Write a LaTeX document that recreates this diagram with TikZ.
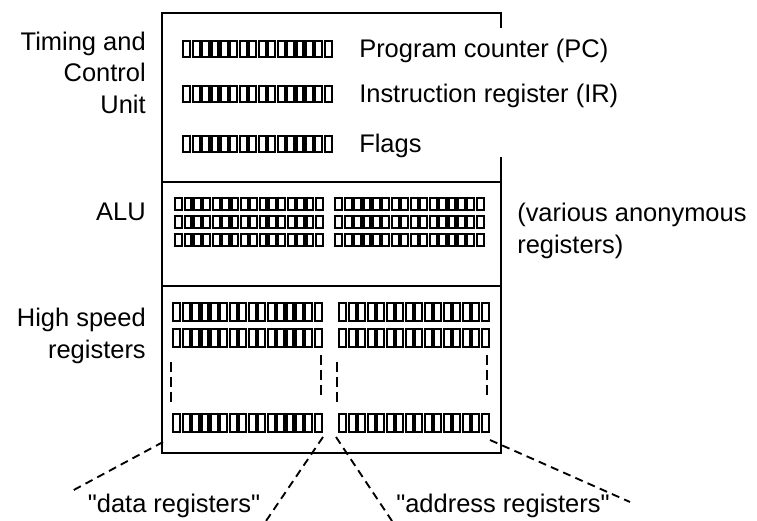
\documentclass[tikz,border=0pt]{standalone}
\usepackage{fontspec}
\setmainfont{Liberation Sans}[Ligatures=TeXOff]
\tikzset{x=0.75pt, y=-0.75pt,
 boxline/.style={line width=1.8pt},
 txt/.style={font=\fontsize{19.1pt}{23.6pt}\selectfont, inner sep=0pt},
 zoomline/.style={line width=1.4pt, dash pattern=on 6pt off 4pt},
 gapline/.style={line width=1.4pt, dash pattern=on 7.5pt off 3.75pt},
 bitcell/.style={line width=1.6pt},
 }
% a register drawn as 16 bit cells: left, top, width, height
\newcommand{\regrow}[4]{%
  \foreach \k in {0,...,15}{%
    \draw[bitcell] ({#1+\k*#3/16+1.2},{#2+1.1}) rectangle ({#1+(\k+1)*#3/16-1.2},{#2+#4-1.1});
  }%
}

\begin{document}
\begin{tikzpicture}
        \useasboundingbox (0,0) rectangle (757,521);
        % the cpu box, right side left open for the register names
        \draw[boxline] (501,28) -- (501,13) -- (162,13) -- (162,453) -- (501,453) -- (501,157);
        \draw[boxline] (162,182) -- (501,182);
        \draw[boxline] (162,286) -- (501,286);

        \node[txt, anchor=base east, align=right] (tcu) at (146,113) {Timing and\\Control\\Unit};
        \node[txt, anchor=base east] (alu) at (146,220) {ALU};
        \node[txt, anchor=base east, align=right] (hsr) at (146,358) {High speed\\registers};

        % control unit registers
        \regrow{182}{40}{151}{18}
        \regrow{182}{85}{151}{18}
        \regrow{182}{135}{151}{18}
        \node[txt, anchor=base west] (pc) at (359,57) {Program counter (PC)};
        \node[txt, anchor=base west] (ir) at (359,102) {Instruction register (IR)};
        \node[txt, anchor=base west] (flags) at (359,152) {Flags};

        % alu registers
        \regrow{174}{197}{150}{14}
        \regrow{174}{215}{150}{14}
        \regrow{174}{233}{150}{14}
        \regrow{334}{197}{151}{14}
        \regrow{334}{215}{151}{14}
        \regrow{334}{233}{151}{14}
        \node[txt, anchor=base west, align=left] (anon) at (517,253) {(various anonymous\\registers)};

        % high speed registers
        \regrow{172}{302}{151}{20}
        \regrow{172}{328}{151}{20}
        \regrow{172}{413}{151}{20}
        \regrow{338}{302}{152}{20}
        \regrow{338}{328}{152}{20}
        \regrow{338}{413}{152}{20}
        \draw[gapline] (171,362) -- (171,402);
        \draw[gapline] (321,355) -- (321,395);
        \draw[gapline] (337,362) -- (337,402);
        \draw[gapline] (487,355) -- (487,397);

        \node[txt, anchor=base] (data) at (174,512) {"data registers"};
        \node[txt, anchor=base] (addr) at (503,512) {"address registers"};

        \coordinate (dataL) at (163,442);
        \coordinate (dataR) at (323,437);
        \coordinate (addrL) at (336,437);
        \coordinate (addrR) at (490,440);
        \coordinate (dataLend) at (70,492);
        \coordinate (dataRend) at (266,521);
        \coordinate (addrLend) at (392,521);
        \coordinate (addrRend) at (630,502);
        \draw[zoomline] (dataL) -- (dataLend);
        \draw[zoomline] (dataR) -- (dataRend);
        \draw[zoomline] (addrL) -- (addrLend);
        \draw[zoomline] (addrR) -- (addrRend);
    \end{tikzpicture}
\end{document}
